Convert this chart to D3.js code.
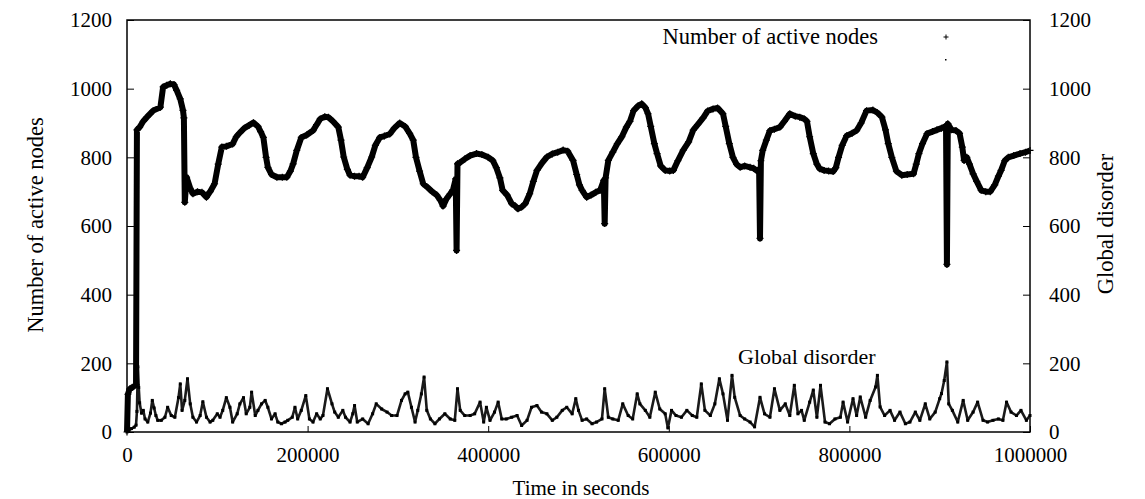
<!DOCTYPE html>
<html>
<head>
<meta charset="utf-8">
<script src="https://cdn.jsdelivr.net/npm/d3@7"></script>
<style>
  body { margin: 0; background: #fff; }
  svg text { font-family: "Liberation Serif", "Times New Roman", serif; fill: #000; }
</style>
</head>
<body>
<div id="chart"></div>
<script>
// data (time in kiloseconds)
var nodeTimeK = [0,1,3,6,10,11,14,18,22,29,37,40,44,48,52,55,59,62,63,64,66,70,73,78,83,88,92,97,101,105,110,117,121,125,130,135,140,145,148,151,154,156,160,166,172,177,181,184,188,193,199,206,210,214,219,223,228,234,237,240,244,247,252,257,261,266,271,275,280,285,291,296,302,308,313,317,320,324,328,333,338,343,347,350,354,358,361,364,365,366,369,374,380,387,393,400,405,409,413,416,421,426,430,433,437,441,446,450,454,460,465,471,477,483,488,494,498,501,504,509,514,519,524,528,529,530,533,538,543,548,553,557,561,566,570,574,577,580,584,587,591,596,601,605,610,616,622,627,632,638,643,649,654,660,663,667,671,675,679,684,690,694,697,700,701,702,704,708,712,717,723,728,734,740,745,750,753,756,760,764,767,772,777,782,785,788,792,797,803,808,813,819,826,831,836,840,843,847,852,858,864,871,874,877,881,886,892,897,902,906,907,908,909,913,918,922,925,927,930,933,937,941,946,951,956,961,965,968,972,976,982,989,995,1000];
var activeNodes = [0,110,125,130,138,880,888,905,917,936,946,1005,1010,1014,1012,995,970,937,915,669,742,710,694,700,698,684,700,723,780,830,832,839,860,872,885,893,901,890,875,858,800,771,750,742,742,742,760,781,820,858,865,878,895,912,918,917,905,888,850,801,765,748,745,745,742,770,801,835,858,862,868,885,900,890,870,850,800,760,723,712,700,690,675,658,680,694,705,737,529,781,785,795,805,811,808,800,791,770,740,704,690,665,658,650,655,665,694,730,762,785,801,810,815,821,818,791,750,720,704,684,690,698,704,733,607,740,791,815,840,860,888,905,936,950,956,945,927,890,840,811,775,762,760,762,790,821,845,879,895,915,935,941,944,927,890,840,800,780,771,775,771,768,762,765,564,790,820,850,878,882,888,905,927,920,917,912,905,860,811,780,767,762,760,759,770,800,835,863,870,878,900,936,938,930,917,880,840,800,760,748,750,752,780,811,840,869,875,880,885,890,888,488,898,880,878,870,830,791,800,780,752,730,704,700,700,720,745,762,790,800,805,811,815,820];

var disorderTimeK = [0,2,5,8,10,11,12,13,14,16,18,20,23,26,28,30,32,34,38,42,45,49,53,57,59,61,64,67,70,73,77,81,84,88,92,95,100,103,106,110,114,117,122,125,129,132,136,138,142,145,149,153,156,160,164,167,171,175,178,183,186,189,193,198,202,206,210,214,217,222,227,230,234,239,242,247,250,252,255,261,267,272,276,282,288,293,299,304,308,311,315,319,322,326,329,332,336,341,346,352,358,363,366,369,374,380,385,391,395,398,402,407,411,415,420,426,432,437,443,448,454,459,465,471,476,482,487,493,497,500,504,509,515,520,526,529,533,538,544,549,555,560,565,568,574,579,585,590,596,599,603,608,614,620,626,631,636,640,646,651,656,660,665,670,673,679,684,690,695,701,706,712,717,723,729,734,739,743,747,750,756,760,764,768,773,778,784,790,793,798,804,808,812,818,823,829,831,834,839,845,850,856,862,867,873,878,884,889,895,900,902,905,908,910,914,920,926,931,937,942,948,953,959,965,970,974,979,985,990,996,1000];
var disorder = [0,5,10,14,20,60,190,130,85,55,63,38,29,55,92,70,48,34,34,43,72,48,43,100,140,63,92,155,82,43,29,48,88,43,29,34,53,43,63,100,72,29,53,82,100,53,72,116,48,63,82,92,72,38,53,29,24,29,34,43,72,38,63,106,38,29,53,38,48,126,82,58,43,63,43,29,53,77,29,38,24,53,82,67,58,48,48,92,111,116,72,29,63,111,160,63,38,24,38,53,38,34,126,63,48,48,53,87,29,72,34,58,87,38,38,43,48,19,34,72,77,58,53,34,43,63,72,53,97,63,34,38,24,29,38,126,43,38,34,82,48,38,111,82,63,43,116,67,53,12,63,48,43,63,48,43,140,63,48,82,155,111,34,165,101,48,38,29,15,101,53,43,126,63,82,48,136,53,63,34,87,122,43,136,29,24,38,43,87,29,97,48,102,43,92,131,165,73,48,63,34,58,24,29,58,34,82,38,58,97,112,150,204,82,63,29,92,34,58,87,34,29,34,38,34,87,58,48,63,34,48];

var xTickValues = [0, 200000, 400000, 600000, 800000, 1000000];
var yTickValues = [0, 200, 400, 600, 800, 1000, 1200];

var W = 1145, H = 499;
var margin = {top: 20, right: 115, bottom: 67, left: 127},
    width = 1030 - margin.left,
    height = 432 - margin.top;
var font = "'Liberation Serif', 'Times New Roman', serif";

var svg = d3.select("#chart")
  .append("svg")
    .attr("width", W)
    .attr("height", H)
  .append("g")
    .attr("transform", "translate(" + margin.left + "," + margin.top + ")");

var x = d3.scaleLinear().domain([0, 1000000]).range([0, width]);
var y = d3.scaleLinear().domain([0, 1200]).range([height, 0]);
var y2 = d3.scaleLinear().domain([0, 1200]).range([height, 0]);

// axes, ticks pointing inwards like gnuplot
svg.append("g")
  .attr("transform", "translate(0," + height + ")")
  .call(d3.axisBottom(x).tickValues(xTickValues).tickFormat(d3.format("d"))
        .tickSizeInner(-6).tickSizeOuter(0).tickPadding(15));
svg.append("g")
  .call(d3.axisLeft(y).tickValues(yTickValues).tickFormat(d3.format("d"))
        .tickSizeInner(-7).tickSizeOuter(0).tickPadding(15));
svg.append("g")
  .attr("transform", "translate(" + width + ",0)")
  .call(d3.axisRight(y2).tickValues(yTickValues).tickFormat(d3.format("d"))
        .tickSizeInner(-7).tickSizeOuter(0).tickPadding(19));

svg.selectAll(".domain").remove();
svg.selectAll(".tick line").attr("stroke", "#000").attr("stroke-width", 1);
svg.selectAll("g").attr("font-family", font);
svg.selectAll(".tick text")
  .style("font-size", "21px")
  .attr("fill", "#000");

// Border
svg.append("rect")
  .attr("x", 0).attr("y", 0)
  .attr("width", width).attr("height", height)
  .attr("fill", "none")
  .attr("stroke", "#000")
  .attr("stroke-width", 1.5);

// Global disorder (y2), dense dots
var disorderData = disorderTimeK.map(function(t, i) { return {t: t * 1000, v: disorder[i]}; });
svg.append("path")
  .datum(disorderData)
  .attr("fill", "none")
  .attr("stroke", "#1a1a1a")
  .attr("stroke-width", 2.6)
  .attr("stroke-linejoin", "round")
  .attr("d", d3.line()
    .x(function(d) { return x(d.t); })
    .y(function(d) { return y2(d.v); }));
svg.selectAll(".dis")
  .data(disorderData)
  .enter().append("rect")
    .attr("class", "dis")
    .attr("x", function(d) { return x(d.t) - 1.5; })
    .attr("y", function(d) { return y2(d.v) - 1.5; })
    .attr("width", 3).attr("height", 3)
    .attr("fill", "#000");

// Number of active nodes, thick band of + markers
var nodeData = nodeTimeK.map(function(t, i) { return {t: t * 1000, v: activeNodes[i]}; });
svg.append("path")
  .datum(nodeData)
  .attr("fill", "none")
  .attr("stroke", "#000")
  .attr("stroke-width", 6)
  .attr("stroke-linejoin", "round")
  .attr("d", d3.line()
    .x(function(d) { return x(d.t); })
    .y(function(d) { return y(d.v); }));
svg.selectAll(".plus")
  .data(nodeData)
  .enter().append("path")
    .attr("class", "plus")
    .attr("transform", function(d) { return "translate(" + x(d.t) + "," + y(d.v) + ")"; })
    .attr("d", "M-3.5,0H3.5M0,-3.5V3.5")
    .attr("stroke", "#000")
    .attr("stroke-width", 1.2);

// legend
svg.append("text")
  .attr("x", 878 - margin.left).attr("y", 44 - margin.top)
  .attr("text-anchor", "end")
  .style("font-size", "22.5px")
  .text("Number of active nodes");
svg.append("path")
  .attr("transform", "translate(" + (946 - margin.left) + "," + (37 - margin.top) + ")")
  .attr("d", "M-2.5,0H2.5M0,-2.5V2.5")
  .attr("stroke", "#000").attr("stroke-width", 1);
svg.append("rect")
  .attr("x", 945 - margin.left).attr("y", 59 - margin.top)
  .attr("width", 1.5).attr("height", 1.5)
  .attr("fill", "#000");

svg.append("text")
  .attr("x", 738 - margin.left).attr("y", 364 - margin.top)
  .style("font-size", "22px")
  .text("Global disorder");

// axis titles
svg.append("text")
  .attr("transform", "translate(" + (35 - margin.left) + "," + (225 - margin.top) + ")rotate(-90)")
  .attr("text-anchor", "middle")
  .attr("dominant-baseline", "central")
  .style("font-size", "22.5px")
  .text("Number of active nodes");
svg.append("text")
  .attr("transform", "translate(" + (1105 - margin.left) + "," + (224 - margin.top) + ")rotate(-90)")
  .attr("text-anchor", "middle")
  .attr("dominant-baseline", "central")
  .style("font-size", "22.5px")
  .text("Global disorder");
svg.append("text")
  .attr("x", 581 - margin.left).attr("y", 495 - margin.top)
  .attr("text-anchor", "middle")
  .style("font-size", "21px")
  .text("Time in seconds");
</script>
</body>
</html>
